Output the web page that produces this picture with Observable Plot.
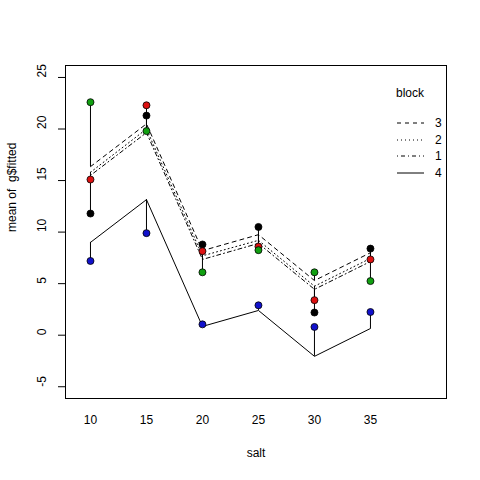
<!DOCTYPE html>
<html>
<head>
<meta charset="utf-8">
<script src="https://cdn.jsdelivr.net/npm/d3@7"></script>
<script src="https://cdn.jsdelivr.net/npm/@observablehq/plot@0.6"></script>
<style>
  body { margin: 0; background: #fff; }
  #chart svg { font-family: "Liberation Sans", Arial, sans-serif; }
</style>
</head>
<body>
<div id="chart"></div>
<script>
// salt levels and blocks
const salt = [10, 15, 20, 25, 30, 35]
const blocks = ["1", "2", "3", "4"]
const legendOrder = ["3", "2", "1", "4"]

// observed values per block (points)
const obs1 = [11.8, 21.3, 8.8, 10.5, 2.2, 8.4]
const obs2 = [15.1, 22.3, 8.15, 8.6, 3.4, 7.35]
const obs3 = [22.6, 19.8, 6.1, 8.25, 6.1, 5.25]
const obs4 = [7.2, 9.9, 1.05, 2.9, 0.8, 2.25]

// fitted means per block (lines)
const fit1 = [15.5, 19.65, 7.35, 8.9, 4.45, 7.15]
const fit2 = [15.8, 20.0, 7.7, 9.2, 4.75, 7.45]
const fit3 = [16.35, 20.5, 8.2, 9.75, 5.3, 8.0]
const fit4 = [9.0, 13.15, 0.85, 2.4, -2.05, 0.65]

const yTicks = [-5, 0, 5, 10, 15, 20, 25]

const obsByBlock = {"1": obs1, "2": obs2, "3": obs3, "4": obs4}
const fitByBlock = {"1": fit1, "2": fit2, "3": fit3, "4": fit4}
const colors = {"1": "#000000", "2": "#dd1111", "3": "#11a011", "4": "#1111cc"}
const dashes = {"1": "1,3,4,3", "2": "1,3", "3": "4,4", "4": null}

const rows = blocks.flatMap(b => salt.map((s, i) => ({
  block: b, salt: s, obs: obsByBlock[b][i], fit: fitByBlock[b][i]
})))

const lineMarks = blocks.map(b => Plot.line(rows.filter(d => d.block === b), {
  x: 'salt', y: 'fit', stroke: 'black', strokeWidth: 1, strokeDasharray: dashes[b]
}))

// legend drawn in the top right corner of the frame
function legend(index, scales, values, dims) {
  const g = d3.create('svg:g').attr('text-anchor', 'start')
  g.append('text').attr('x', 396).attr('y', 93).attr('dy', '0.35em')
    .attr('font-size', 12).text('block')
  legendOrder.forEach((b, i) => {
    const y = [123, 140, 156, 173][i]
    g.append('line').attr('x1', 397).attr('x2', 424).attr('y1', y).attr('y2', y)
      .attr('stroke', 'black').attr('stroke-dasharray', dashes[b])
    g.append('text').attr('x', 435).attr('y', y).attr('dy', '0.35em')
      .attr('font-size', 12).text(b)
  })
  return g.node()
}

const chart = Plot.plot({
  width: 480,
  height: 480,
  marginLeft: 65,
  marginRight: 34,
  marginTop: 65,
  marginBottom: 82,
  x: {domain: [7.77, 41.79], axis: null},
  y: {domain: [-6.14, 26.16], axis: null},
  marks: [
    Plot.frame({stroke: 'black'}),
    Plot.axisY({ticks: yTicks, tickSize: 7, tickFormat: () => '', strokeWidth: 1}),
    Plot.text(yTicks, {y: d => d, frameAnchor: 'left', dx: -23, rotate: -90, fontSize: 12, text: d => String(d), fill: 'black'}),
    Plot.text(salt, {x: d => d, frameAnchor: 'bottom', dy: 25, fontSize: 12, text: d => String(d), fill: 'black'}),
    Plot.text(['salt'], {frameAnchor: 'bottom', dy: 58, fontSize: 12, fill: 'black'}),
    Plot.text(['mean of  g$fitted'], {frameAnchor: 'left', dx: -53, rotate: -90, fontSize: 12, fill: 'black'}),
    ...lineMarks,
    Plot.ruleX(rows, {x: 'salt', y1: 'obs', y2: 'fit', stroke: 'black', strokeWidth: 1}),
    Plot.dot(rows, {x: 'salt', y: 'obs', r: 3.5, fill: d => colors[d.block], stroke: 'black', strokeWidth: 0.8}),
    legend
  ]
})

d3.select('#chart').append(() => chart)
</script>
</body>
</html>
